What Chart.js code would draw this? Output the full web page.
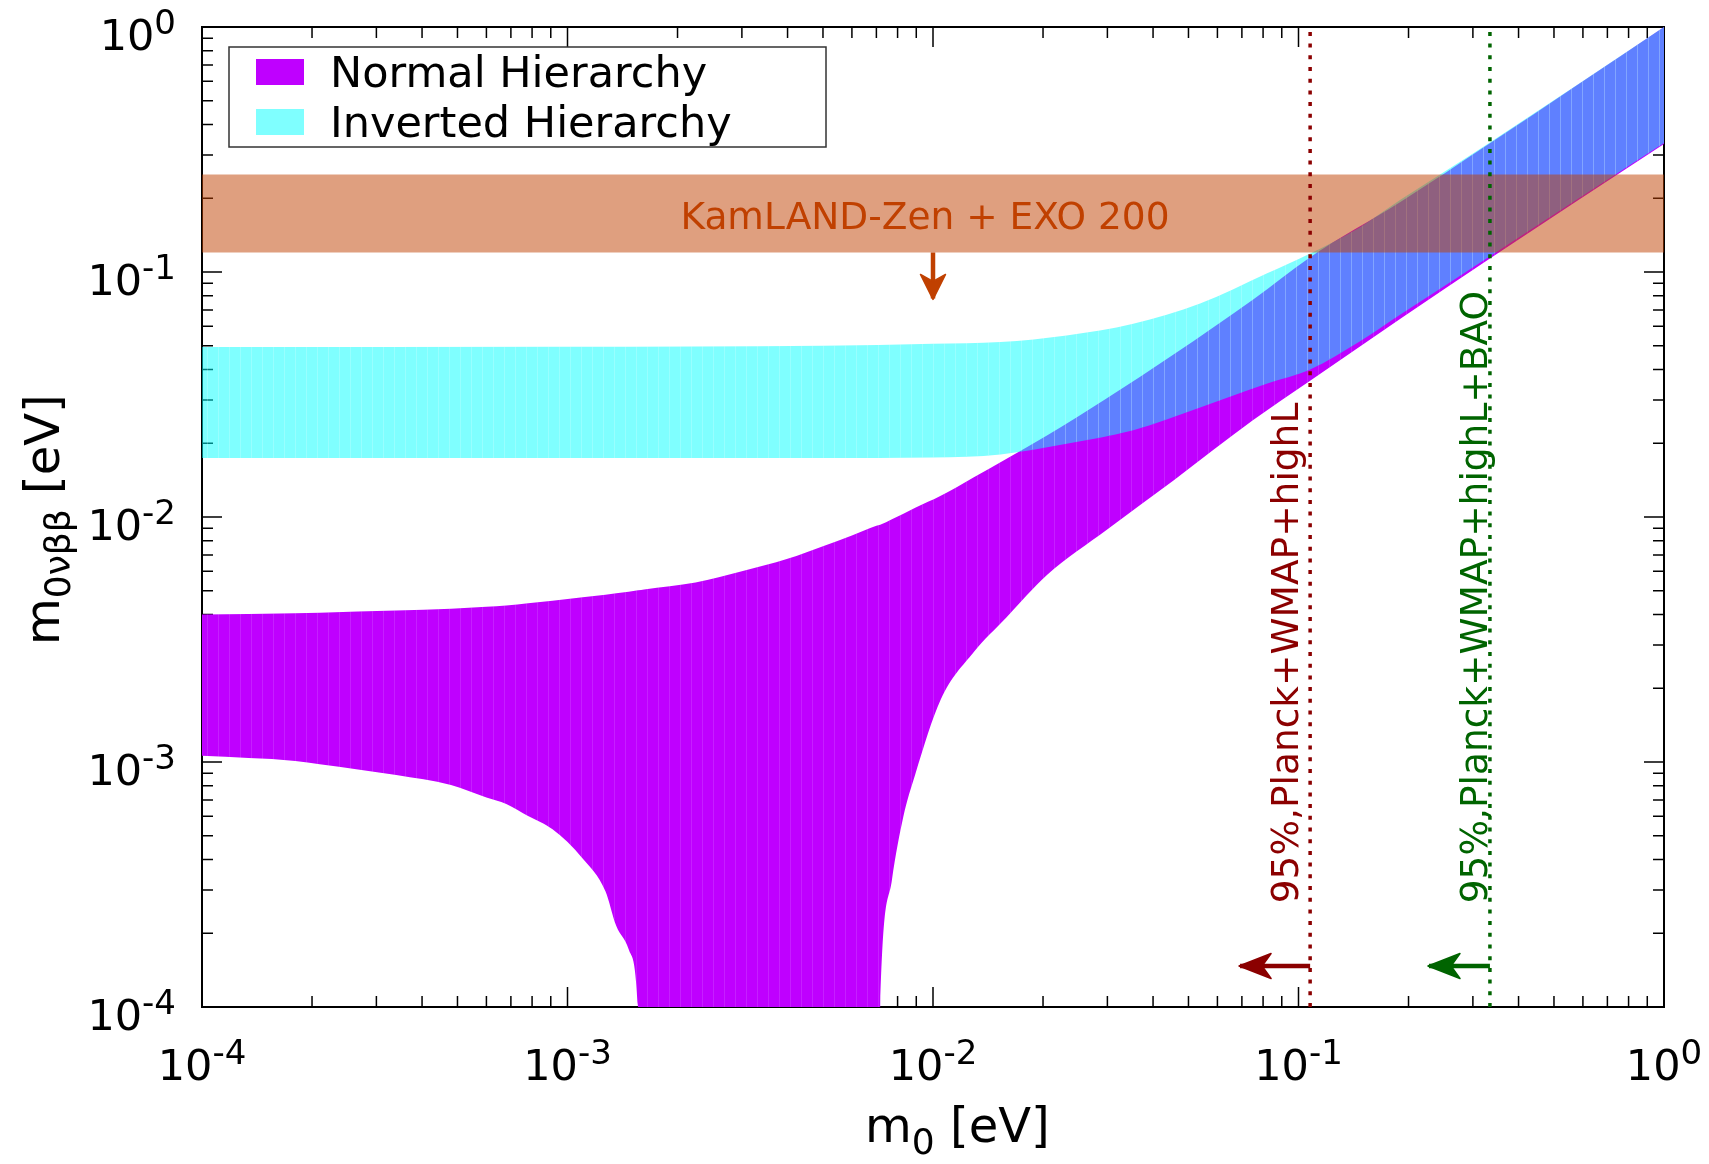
<!DOCTYPE html>
<html>
<head>
<meta charset="utf-8">
<title>m0vbb vs m0</title>
<script src="https://cdn.jsdelivr.net/npm/chart.js@4.4.1/dist/chart.umd.min.js"></script>
<style>
  html, body { margin: 0; padding: 0; background: #fff; }
  canvas { display: block; }
</style>
</head>
<body>
<canvas id="mbbChart" width="1709" height="1164"></canvas>
<script>
// lightest neutrino mass m0 [eV] with the allowed effective mass range [eV]
const nhMass  = [1e-4, 1.8e-4, 2.1e-4, 3.4e-4, 4.8e-4, 6.0e-4, 6.8e-4, 7.8e-4, 9.1e-4, 1.1e-3, 1.27e-3, 1.36e-3, 1.47e-3, 1.56e-3, 1.62e-3, 2.24e-3, 3e-3, 4e-3, 5e-3, 6.0e-3, 7.0e-3, 7.17e-3, 7.72e-3, 8.3e-3, 8.94e-3, 1.05e-2, 1.29e-2, 1.59e-2, 2.05e-2, 2.99e-2, 4.55e-2, 7.5e-2, 0.1076, 0.19, 0.334, 1.0];
const nhUpper = [4.0e-3, 4.05e-3, 4.07e-3, 4.15e-3, 4.22e-3, 4.3e-3, 4.35e-3, 4.45e-3, 4.55e-3, 4.7e-3, 4.82e-3, 4.88e-3, 4.95e-3, 5.02e-3, 5.06e-3, 5.4e-3, 6.0e-3, 6.75e-3, 7.6e-3, 8.4e-3, 9.2e-3, 9.3e-3, 9.8e-3, 1.03e-2, 1.09e-2, 1.22e-2, 1.45e-2, 1.73e-2, 2.15e-2, 3.05e-2, 4.6e-2, 7.7e-2, 0.115, 0.193, 0.335, 1.0];
// the cancellation dip drops far below the plotted range
const nhLower = [1.06e-3, 1.01e-3, 9.8e-4, 8.85e-4, 8.05e-4, 7.16e-4, 6.74e-4, 6.02e-4, 5.31e-4, 4.04e-4, 2.97e-4, 2.14e-4, 1.72e-4, 1.0e-4, 1e-5, 1e-5, 1e-5, 1e-5, 1e-5, 1e-5, 1e-5, 1.0e-4, 3.3e-4, 6.0e-4, 8.9e-4, 1.8e-3, 2.8e-3, 3.9e-3, 5.8e-3, 8.88e-3, 1.41e-2, 2.48e-2, 3.6e-2, 6.45e-2, 0.1135, 0.333];

const ihMass  = [1e-4, 1e-3, 5e-3, 1e-2, 1.53e-2, 2.32e-2, 3.53e-2, 5.38e-2, 8.18e-2, 0.1076, 0.147, 0.19, 0.334, 1.0];
const ihUpper = [4.94e-2, 4.95e-2, 5.0e-2, 5.1e-2, 5.18e-2, 5.51e-2, 6.15e-2, 7.43e-2, 9.85e-2, 0.119, 0.152, 0.197, 0.338, 1.0];
const ihLower = [1.74e-2, 1.74e-2, 1.74e-2, 1.75e-2, 1.8e-2, 1.99e-2, 2.26e-2, 2.8e-2, 3.5e-2, 4.0e-2, 5.2e-2, 6.7e-2, 0.116, 0.336];

// KamLAND-Zen + EXO 200 excluded band and its arrow
const kamlandLimits = [0.12, 0.25];
const kamlandArrowMass = 0.01;
const kamlandArrowTip = 0.078;

// cosmological bounds on m0
const planckLabels = ['95%,Planck+WMAP+highL', '95%,Planck+WMAP+highL+BAO'];
const planckMass = [0.1076, 0.334];
const planckArrowTip = [0.0692, 0.2275];
const planckArrowLevel = 1.47e-4;

const axisRange = [1e-4, 1];
const decadeExps = [-4, -3, -2, -1, 0];

const FONT = '"DejaVu Sans", "Liberation Sans", sans-serif';
const NH_COLOR = 'rgb(191, 0, 255)';
const IH_COLOR = 'rgba(0, 255, 255, 0.5)';
const BAND_COLOR = 'rgba(192, 64, 0, 0.5)';
const KAMLAND_TEXT = '#c04000';
const PLANCK_COLORS = ['#8b0000', '#006400'];

const pts = (xs, ys) => xs.map((x, i) => ({ x: x, y: ys[i] }));

const whiteBackground = {
    id: 'whiteBackground',
    beforeDraw(chart) {
        const ctx = chart.ctx;
        ctx.save();
        ctx.fillStyle = '#fff';
        ctx.fillRect(0, 0, chart.width, chart.height);
        ctx.restore();
    }
};

// border with inward ticks on all four sides (drawn under the bands)
const frameTicks = {
    id: 'frameTicks',
    beforeDatasetsDraw(chart) {
        const { ctx, chartArea: a } = chart;
        const xs = chart.scales.x, ys = chart.scales.y;
        ctx.save();
        ctx.strokeStyle = '#000';
        ctx.lineWidth = 1.5;
        ctx.beginPath();
        decadeExps.forEach(e => {
            for (let k = 1; k < 10; k++) {
                const v = k * Math.pow(10, e);
                if (v > axisRange[1] * 1.0001) continue;
                const len = k === 1 ? 20 : 11;
                const px = xs.getPixelForValue(v);
                ctx.moveTo(px, a.bottom); ctx.lineTo(px, a.bottom - len);
                ctx.moveTo(px, a.top); ctx.lineTo(px, a.top + len);
                const py = ys.getPixelForValue(v);
                ctx.moveTo(a.left, py); ctx.lineTo(a.left + len, py);
                ctx.moveTo(a.right, py); ctx.lineTo(a.right - len, py);
            }
        });
        ctx.stroke();
        ctx.lineWidth = 2;
        ctx.strokeRect(a.left, a.top, a.right - a.left, a.bottom - a.top);
        ctx.restore();
    }
};

// faint vertical seams across the filled bands, like a slab-by-slab fill
const bandSeams = {
    id: 'bandSeams',
    afterDatasetDraw(chart, args) {
        const pair = args.index === 3 ? [3, 4, 0.12] : args.index === 1 ? [1, 2, 0.2] : null;
        if (!pair) return;
        const { ctx, chartArea: a } = chart;
        const up = chart.getDatasetMeta(pair[0]).data;
        const lo = chart.getDatasetMeta(pair[1]).data;
        ctx.save();
        ctx.beginPath();
        ctx.rect(a.left, a.top, a.right - a.left, a.bottom - a.top);
        ctx.clip();
        ctx.beginPath();
        up.forEach((p, i) => i ? ctx.lineTo(p.x, p.y) : ctx.moveTo(p.x, p.y));
        for (let i = lo.length - 1; i >= 0; i--) ctx.lineTo(lo[i].x, lo[i].y);
        ctx.closePath();
        ctx.clip();
        ctx.strokeStyle = 'rgba(255, 255, 255, ' + pair[2] + ')';
        ctx.lineWidth = 1;
        ctx.beginPath();
        for (let x = Math.round(a.left) + 5.5; x < a.right; x += 11) {
            ctx.moveTo(x, a.top);
            ctx.lineTo(x, a.bottom);
        }
        ctx.stroke();
        ctx.restore();
    }
};

// filled arrow heads at the last point of datasets flagged with arrowHead
const arrowHeads = {
    id: 'arrowHeads',
    afterDatasetsDraw(chart) {
        const ctx = chart.ctx;
        chart.data.datasets.forEach((ds, i) => {
            if (!ds.arrowHead) return;
            const el = chart.getDatasetMeta(i).data;
            const p0 = el[el.length - 2], p1 = el[el.length - 1];
            const ang = Math.atan2(p1.y - p0.y, p1.x - p0.x);
            const L = ds.arrowHead.length, W = ds.arrowHead.width, N = ds.arrowHead.notch;
            ctx.save();
            ctx.translate(p1.x, p1.y);
            ctx.rotate(ang);
            ctx.fillStyle = ds.borderColor;
            ctx.strokeStyle = ds.borderColor;
            ctx.lineWidth = 1.5;
            ctx.lineJoin = 'round';
            ctx.beginPath();
            ctx.moveTo(1, 0);
            ctx.lineTo(-L, -W);
            ctx.lineTo(-N, 0);
            ctx.lineTo(-L, W);
            ctx.closePath();
            ctx.fill();
            ctx.stroke();
            ctx.restore();
        });
    }
};

function drawPower(ctx, exp, x, y, align) {
    ctx.font = '43px ' + FONT;
    const wb = ctx.measureText('10').width;
    ctx.font = '34px ' + FONT;
    const sup = String(exp);
    const ws = ctx.measureText(sup).width;
    const x0 = align === 'center' ? x - (wb + ws) / 2 : x - (wb + ws);
    ctx.font = '43px ' + FONT;
    ctx.fillText('10', x0, y);
    ctx.font = '34px ' + FONT;
    ctx.fillText(sup, x0 + wb, y - 16);
}

// draws a run of [text, size, shift] pieces from (0, 0) along the baseline
function drawRun(ctx, pieces) {
    let cx = 0;
    pieces.forEach(([txt, size, shift]) => {
        ctx.font = size + 'px ' + FONT;
        ctx.fillText(txt, cx, shift);
        cx += ctx.measureText(txt).width;
    });
}

const annotations = {
    id: 'annotations',
    afterDraw(chart) {
        const { ctx, chartArea: a } = chart;
        const xs = chart.scales.x, ys = chart.scales.y;
        ctx.save();
        ctx.textAlign = 'left';
        ctx.textBaseline = 'alphabetic';

        // tick labels
        ctx.fillStyle = '#000';
        decadeExps.forEach(e => {
            const v = Math.pow(10, e);
            drawPower(ctx, e, xs.getPixelForValue(v), a.bottom + 73, 'center');
            drawPower(ctx, e, a.left - 26, ys.getPixelForValue(v) + 23, 'right');
        });

        // axis titles
        ctx.save();
        ctx.translate(865, a.bottom + 135);
        drawRun(ctx, [['m', 48, 0], ['0', 36, 12], [' [eV]', 48, 0]]);
        ctx.restore();

        ctx.save();
        ctx.translate(59, 645);
        ctx.rotate(-Math.PI / 2);
        drawRun(ctx, [['m', 48, 0], ['0νββ', 36, 11], [' [eV]', 48, 0]]);
        ctx.restore();

        // KamLAND-Zen + EXO 200 label inside the band
        ctx.fillStyle = KAMLAND_TEXT;
        ctx.font = '37.5px ' + FONT;
        ctx.textAlign = 'center';
        ctx.fillText('KamLAND-Zen + EXO 200',
            xs.getPixelForValue(kamlandArrowMass) - 8,
            ys.getPixelForValue(kamlandLimits[0]) - 24);

        // cosmology labels along the dotted lines
        const offsets = [12, 3];
        ctx.textAlign = 'left';
        planckLabels.forEach((txt, i) => {
            ctx.save();
            ctx.translate(xs.getPixelForValue(planckMass[i]) - offsets[i], ys.getPixelForValue(2.65e-4));
            ctx.rotate(-Math.PI / 2);
            ctx.fillStyle = PLANCK_COLORS[i];
            ctx.font = '37.5px ' + FONT;
            ctx.fillText(txt, 0, 0);
            ctx.restore();
        });

        // legend box
        const entries = [chart.data.datasets[3], chart.data.datasets[1]];
        ctx.fillStyle = '#fff';
        ctx.fillRect(229, 47, 597, 100);
        ctx.strokeStyle = '#333';
        ctx.lineWidth = 1.5;
        ctx.strokeRect(229, 47, 597, 100);
        entries.forEach((ds, i) => {
            const top = 59 + i * 50;
            ctx.fillStyle = ds.backgroundColor;
            ctx.fillRect(256, top, 48, 26);
            ctx.fillStyle = '#000';
            ctx.font = '43px ' + FONT;
            ctx.fillText(ds.label, 330, top + 28);
        });
        ctx.restore();
    }
};

const bandStyle = { borderWidth: 0, cubicInterpolationMode: 'monotone' };

new Chart(document.getElementById('mbbChart'), {
    type: 'line',
    data: {
        datasets: [
            {
                label: 'KamLAND-Zen + EXO 200',
                data: pts(axisRange, [kamlandLimits[1], kamlandLimits[1]]),
                fill: { value: kamlandLimits[0] },
                backgroundColor: BAND_COLOR,
                borderWidth: 0,
                order: 0
            },
            Object.assign({
                label: 'Inverted Hierarchy',
                data: pts(ihMass, ihUpper),
                fill: '+1',
                backgroundColor: IH_COLOR,
                order: 1
            }, bandStyle),
            Object.assign({
                label: 'IH lower',
                data: pts(ihMass, ihLower),
                fill: false,
                order: 1
            }, bandStyle),
            Object.assign({
                label: 'Normal Hierarchy',
                data: pts(nhMass, nhUpper),
                fill: '+1',
                backgroundColor: NH_COLOR,
                order: 2
            }, bandStyle),
            Object.assign({
                label: 'NH lower',
                data: pts(nhMass, nhLower),
                fill: false,
                order: 2
            }, bandStyle),
            {
                label: planckLabels[0],
                data: pts([planckMass[0], planckMass[0]], axisRange),
                borderColor: PLANCK_COLORS[0],
                borderWidth: 3.5,
                borderDash: [4, 7.7],
                fill: false,
                order: -1
            },
            {
                label: planckLabels[1],
                data: pts([planckMass[1], planckMass[1]], axisRange),
                borderColor: PLANCK_COLORS[1],
                borderWidth: 3.5,
                borderDash: [4, 7.7],
                fill: false,
                order: -1
            },
            {
                label: 'arrow 1',
                data: pts([planckMass[0], planckArrowTip[0]], [planckArrowLevel, planckArrowLevel]),
                borderColor: PLANCK_COLORS[0],
                borderWidth: 4.5,
                fill: false,
                arrowHead: { length: 31, width: 12.5, notch: 22 },
                order: -2
            },
            {
                label: 'arrow 2',
                data: pts([planckMass[1], planckArrowTip[1]], [planckArrowLevel, planckArrowLevel]),
                borderColor: PLANCK_COLORS[1],
                borderWidth: 4.5,
                fill: false,
                arrowHead: { length: 31, width: 12.5, notch: 22 },
                order: -2
            },
            {
                label: 'arrow 3',
                data: pts([kamlandArrowMass, kamlandArrowMass], [kamlandLimits[0], kamlandArrowTip]),
                borderColor: KAMLAND_TEXT,
                borderWidth: 4.5,
                fill: false,
                arrowHead: { length: 24, width: 12.5, notch: 17 },
                order: -2
            }
        ]
    },
    options: {
        responsive: false,
        animation: false,
        events: [],
        layout: { padding: { top: 27, right: 45, left: 0, bottom: 0 } },
        elements: {
            point: { radius: 0 },
            line: { tension: 0, borderCapStyle: 'butt', capBezierPoints: false }
        },
        plugins: {
            legend: { display: false },
            tooltip: { enabled: false }
        },
        scales: {
            x: {
                type: 'logarithmic',
                min: axisRange[0],
                max: axisRange[1],
                grid: { display: false },
                border: { display: false },
                ticks: { display: false },
                afterFit(scale) { scale.height = 157; }
            },
            y: {
                type: 'logarithmic',
                min: axisRange[0],
                max: axisRange[1],
                grid: { display: false },
                border: { display: false },
                ticks: { display: false },
                afterFit(scale) { scale.width = 202; }
            }
        }
    },
    plugins: [whiteBackground, frameTicks, bandSeams, arrowHeads, annotations]
});
</script>
</body>
</html>
